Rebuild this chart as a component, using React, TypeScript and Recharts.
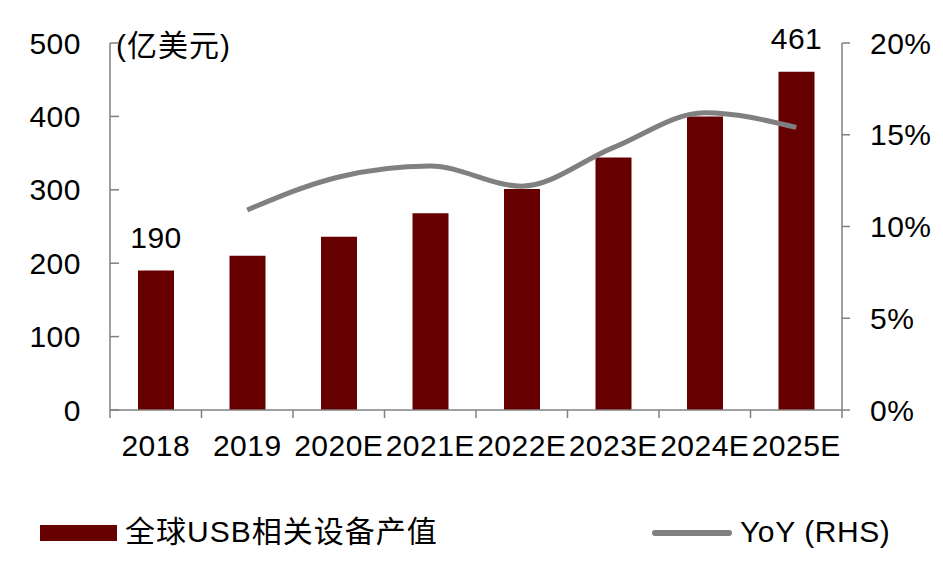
import { ComposedChart, Bar, Line, XAxis, YAxis, LabelList } from 'recharts';

const years = ['2018', '2019', '2020E', '2021E', '2022E', '2023E', '2024E', '2025E'];
const outputValues = [190, 210, 236, 268, 301, 344, 400, 461];
const yoyValues = [null, 10.9, 12.7, 13.3, 12.2, 14.3, 16.2, 15.4];
const leftTicks = [0, 100, 200, 300, 400, 500];
const rightTicks = [0, 5, 10, 15, 20];

const data = years.map((year, i) => ({
  year,
  value: outputValues[i],
  yoy: yoyValues[i],
}));

const FONT = "'Liberation Sans', Arial, 'Noto Sans CJK SC', sans-serif";
const AXIS_COLOR = '#808080';
const BAR_COLOR = '#660000';
const LINE_COLOR = '#808080';
const CHART_W = 935;
const CHART_H = 564;
const PLOT_W = 732;
const BAND = PLOT_W / years.length;
const FS = 30;

function XTick(props: any) {
  const { x, y, payload, index } = props;
  const last = index === years.length - 1;
  return (
    <g>
      <line x1={x - BAND / 2} x2={x - BAND / 2} y1={y} y2={y + 8} stroke={AXIS_COLOR} strokeWidth={1.5} />
      {last && (
        <line x1={x + BAND / 2} x2={x + BAND / 2} y1={y} y2={y + 8} stroke={AXIS_COLOR} strokeWidth={1.5} />
      )}
      <text x={x} y={y + 46} textAnchor="middle" fontSize={FS} letterSpacing={0.5} fill="#000" fontFamily={FONT}>
        {payload.value}
      </text>
    </g>
  );
}

function LeftTick(props: any) {
  const { x, y, payload } = props;
  return (
    <g>
      <line x1={x + 29} x2={x + 38} y1={y} y2={y} stroke={AXIS_COLOR} strokeWidth={1.5} />
      <text x={x} y={y + 10.5} textAnchor="end" fontSize={FS} letterSpacing={0.5} fill="#000" fontFamily={FONT}>
        {payload.value}
      </text>
    </g>
  );
}

function EndLabel(props: any) {
  const { x, y, width, value, index } = props;
  if (index !== 0 && index !== years.length - 1) return null;
  return (
    <text x={x + width / 2} y={y - 23} textAnchor="middle" fontSize={FS} letterSpacing={0.5} fill="#000" fontFamily={FONT}>
      {value}
    </text>
  );
}

export default function App() {
  return (
    <div style={{ position: 'relative', width: CHART_W, height: CHART_H, fontFamily: FONT }}>
      <ComposedChart
        width={CHART_W}
        height={CHART_H}
        data={data}
        margin={{ top: 35, right: 0, left: 0, bottom: 102 }}
      >
        <XAxis
          dataKey="year"
          height={60}
          axisLine={{ stroke: AXIS_COLOR, strokeWidth: 1.5 }}
          tickLine={false}
          tickSize={0}
          tickMargin={0}
          interval={0}
          tick={<XTick />}
        />
        <YAxis
          yAxisId="left"
          width={102}
          domain={[0, 500]}
          ticks={leftTicks}
          axisLine={{ stroke: AXIS_COLOR, strokeWidth: 1.5 }}
          tickLine={false}
          tickSize={0}
          tickMargin={29}
          tick={<LeftTick />}
          label={{
            content: (p: any) => (
              <text
                x={p.viewBox.x + p.viewBox.width + 6}
                y={p.viewBox.y + 13}
                fontSize={FS}
                letterSpacing={1}
                fill="#000"
                fontFamily={FONT}
              >
                (亿美元)
              </text>
            ),
          }}
        />
        <YAxis
          yAxisId="right"
          orientation="right"
          width={101}
          domain={[0, 20]}
          ticks={rightTicks}
          tickFormatter={(v: number) => `${v}%`}
          axisLine={{ stroke: AXIS_COLOR, strokeWidth: 1.5 }}
          tickLine={{ stroke: AXIS_COLOR, strokeWidth: 1.5 }}
          tickSize={8}
          tickMargin={20}
          tick={{ fontSize: FS, fill: '#000', fontFamily: FONT, letterSpacing: 0.5 }}
        />
        <Bar yAxisId="left" dataKey="value" fill={BAR_COLOR} barSize={36} isAnimationActive={false}>
          <LabelList dataKey="value" content={<EndLabel />} />
        </Bar>
        <Line
          yAxisId="right"
          type="monotone"
          dataKey="yoy"
          stroke={LINE_COLOR}
          strokeWidth={5}
          dot={false}
          activeDot={false}
          connectNulls
          isAnimationActive={false}
        />
      </ComposedChart>

      {/* legend */}
      <div style={{ position: 'absolute', left: 32, top: 517, width: 77, height: 16, background: BAR_COLOR }} />
      <div style={{ position: 'absolute', left: 117, top: 507, fontSize: FS, letterSpacing: 1, lineHeight: '34px', color: '#000', whiteSpace: 'nowrap' }}>
        全球USB相关设备产值
      </div>
      <div
        style={{
          position: 'absolute', left: 644, top: 521.5, width: 80, height: 6,
          background: LINE_COLOR, borderRadius: 3,
        }}
      />
      <div style={{ position: 'absolute', left: 732, top: 507, fontSize: FS, letterSpacing: 0.6, lineHeight: '34px', color: '#000', whiteSpace: 'nowrap' }}>
        YoY (RHS)
      </div>
    </div>
  );
}
